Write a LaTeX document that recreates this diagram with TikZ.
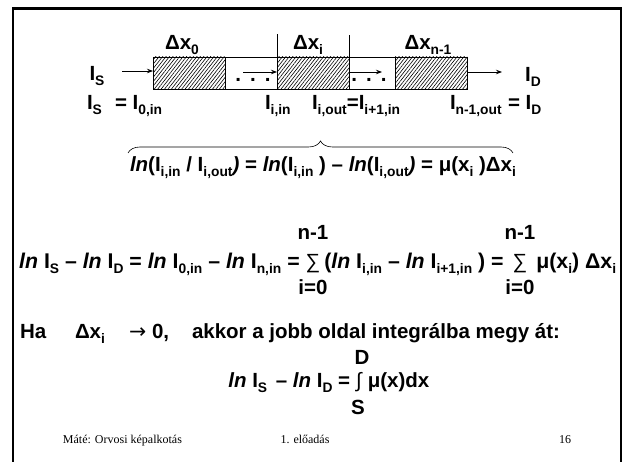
\documentclass[tikz,border=0pt]{standalone}
\usepackage{fontspec}
\setmainfont{Liberation Sans}
\newfontfamily\tnr{Liberation Serif}
\newfontfamily\djv{DejaVu Sans}
\usetikzlibrary{patterns.meta,decorations.pathreplacing,arrows.meta}
\newcommand{\sbs}[1]{\raisebox{-0.2em}{\fontsize{13.8}{14}\selectfont #1}}
\newcommand{\lnx}{\textit{ln}}
\newcommand{\sgm}{{\mdseries ∑}}
\newcommand{\intg}{{\mdseries ∫}}
\begin{document}
\begin{tikzpicture}[x=1pt,y=-1pt,
  every node/.style={inner sep=0pt,outer sep=0pt},
  txt/.style={font=\fontsize{20.5}{24}\selectfont\bfseries, anchor=base},
  txtw/.style={txt, anchor=base west},
  txte/.style={txt, anchor=base east},
  sumtxt/.style={font=\fontsize{21.3}{24}\selectfont\bfseries},
  foot/.style={font=\fontsize{12}{14}\selectfont\tnr, anchor=base},
  frameline/.style={line width=2.5pt, line join=miter},
  hatchbox/.style={draw, line width=0.8pt, minimum height=32pt, anchor=north west,
    pattern={Lines[angle=52,distance=2.7pt,line width=0.6pt]}},
  whitebox/.style={draw, line width=0.8pt, minimum height=32pt, anchor=north west},
  arr/.style={-{Stealth[length=6pt,width=4.5pt]}, line width=0.8pt},
  tick/.style={line width=0.8pt},
  bracestyle/.style={decorate, decoration={brace, amplitude=12pt}, line width=0.6pt},
]
\useasboundingbox (0,0) rectangle (622,462);
\fill[white] (0,0) rectangle (622,462);
% frame
\draw[frameline] (13,462) -- (13,8.5) -- (621,8.5) -- (621,462);
% box segments
\node[hatchbox, minimum width=72pt] (h0) at (153,57) {};
\node[whitebox, minimum width=52pt] (w1) at (225,57) {};
\node[hatchbox, minimum width=72pt] (hi) at (277,57) {};
\node[whitebox, minimum width=46pt] (w2) at (349,57) {};
\node[hatchbox, minimum width=72pt] (hn) at (395,57) {};
% ticks
\coordinate (t1) at (277,34);
\coordinate (t2) at (349,35);
\draw[tick] (hi.north west) -- (t1);
\draw[tick] (hi.north east) -- (t2);
% arrows
\coordinate (a0) at (122,71);
\coordinate (a1) at (243,72);
\coordinate (a2) at (350,72);
\coordinate (a2e) at (382,72);
\coordinate (a3) at (502,72);
\draw[arr] (a0) -- (h0.west |- a0);
\draw[arr] (a1) -- (hi.west |- a1);
\draw[arr] (a2) -- (a2e);
\draw[arr] (hn.east |- a3) -- (a3);
% dots
\node[txt] (d1) at (253,82) {.\hspace{9pt}.\hspace{9pt}.};
\node[txt] (d2) at (369,82) {.\hspace{9pt}.\hspace{9pt}.};
% labels row 1
\node[txt] (dx0) at (182,50) {Δx\sbs{0}};
\node[txt] (dxi) at (308,50) {Δx\sbs{i}};
\node[txt] (dxn) at (428,50) {Δx\sbs{n-1}};
\node[txt] (IS) at (97,81) {I\sbs{S}};
\node[txt] (ID) at (533,82) {I\sbs{D}};
% row 2
\node[txtw] (r1) at (87,110) {I\sbs{S}};
\node[txtw] (r2) at (115,110) {= I\sbs{0,in}};
\node[txtw] (r3) at (265,110) {I\sbs{i,in}};
\node[txtw] (r4) at (312,110) {I\sbs{i,out}=I\sbs{i+1,in}};
\node[txtw] (r5) at (450,110) {I\sbs{n-1,out}};
\node[txtw] (r6) at (508,110) {= I\sbs{D}};
% brace equation
\coordinate (bl) at (128,153);
\coordinate (br) at (513,153);
\draw[bracestyle] (bl) -- (br);
\node[txtw] (beq) at (130,172) {\lnx(I\sbs{i,in} / I\sbs{i,out}\textit{)} = \lnx(I\sbs{i,in} ) – \lnx(I\sbs{i,out}\textit{)} = μ(x\sbs{i} )Δx\sbs{i}};
% sum line
\node[txt] (sg1) at (313,269) {\sgm};
\node[txt] (sg2) at (520,269) {\sgm};
\node[txte, sumtxt] (sA) at ([xshift=-6pt]sg1.base west) {\lnx\ I\sbs{S} – \lnx\ I\sbs{D} = \lnx\ I\sbs{0,in} – \lnx\ I\sbs{n,in} =};
\node[txtw, sumtxt] (sB) at ([xshift=4pt]sg1.base east) {(\lnx\ I\sbs{i,in} – \lnx\ I\sbs{i+1,in} ) =};
\node[txtw, sumtxt] (sC) at ([xshift=9pt]sg2.base east) {μ(x\sbs{i}) Δx\sbs{i}};
\node[txt] (up1) at (313,240) {n-1};
\node[txt] (lo1) at (313,295) {i=0};
\node[txt] (up2) at (520,240) {n-1};
\node[txt] (lo2) at (520,295) {i=0};
% Ha line
\node[txtw] (ha) at (20,339) {Ha};
\node[txtw] (hdx) at (75,339) {Δx\sbs{i}};
\node[txtw] (har) at (129,339) {{\djv\mdseries →}};
\node[txtw] (hz) at (152,339) {0,};
\node[txtw] (hak) at (192,339) {akkor a jobb oldal integrálba megy át:};
% integral line
\node[txt] (ig) at (359,388) {\intg};
\node[txte] (iA) at ([xshift=-6pt]ig.base west) {\lnx\ I\sbs{S}\hspace{3pt} – \lnx\ I\sbs{D} =};
\node[txtw] (iB) at ([xshift=6pt]ig.base east) {μ(x)dx};
\node[txt] (iD) at (362,365) {D};
\node[txt] (iS) at (358,415) {S};
% footer
\node[foot, anchor=base west] (f1) at (63,444) {Máté: Orvosi képalkotás};
\node[foot] (f2) at (305,444) {1. előadás};
\node[foot, anchor=base east] (f3) at (571,444) {16};
\end{tikzpicture}
\end{document}
